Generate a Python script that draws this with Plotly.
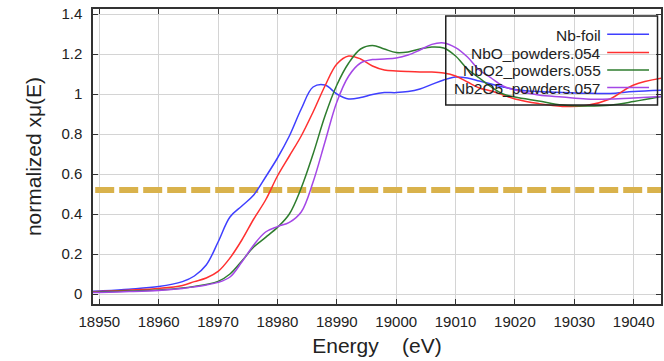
import plotly.graph_objects as go

# ---------------- data ----------------
energy = [18948, 18950, 18955, 18960, 18964, 18966, 18968, 18970, 18972, 18974,
          18976, 18978, 18980, 18982, 18984, 18986, 18988, 18990, 18992, 18994,
          18996, 18998, 19000, 19002, 19004, 19006, 19008, 19010, 19012, 19014,
          19016, 19018, 19020, 19024, 19028, 19032, 19036, 19040, 19046]

nb_foil = [0.012, 0.015, 0.024, 0.037, 0.062, 0.090, 0.145, 0.260, 0.385, 0.440,
           0.495, 0.585, 0.680, 0.790, 0.925, 1.035, 1.045, 1.000, 0.975, 0.982,
           0.998, 1.007, 1.007, 1.012, 1.025, 1.048, 1.070, 1.085, 1.080, 1.065,
           1.050, 1.035, 1.023, 1.012, 1.008, 1.004, 1.003, 1.012, 1.020]

nbo_054 = [0.010, 0.012, 0.019, 0.028, 0.043, 0.062, 0.080, 0.113, 0.180, 0.270,
           0.375, 0.470, 0.590, 0.690, 0.790, 0.910, 1.040, 1.150, 1.190, 1.175,
           1.140, 1.120, 1.115, 1.112, 1.110, 1.110, 1.105, 1.090, 1.060, 1.030,
           1.015, 0.995, 0.975, 0.952, 0.938, 0.942, 0.975, 1.045, 1.085]

nbo2_055 = [0.008, 0.010, 0.015, 0.020, 0.030, 0.038, 0.048, 0.063, 0.100, 0.165,
            0.235, 0.283, 0.333, 0.400, 0.530, 0.700, 0.890, 1.045, 1.155, 1.225,
            1.243, 1.225, 1.207, 1.210, 1.225, 1.235, 1.230, 1.190, 1.125, 1.080,
            1.035, 1.000, 0.985, 0.965, 0.945, 0.940, 0.944, 0.962, 0.995]

nb2o5_057 = [0.006, 0.008, 0.012, 0.018, 0.028, 0.036, 0.045, 0.058, 0.085, 0.160,
             0.245, 0.310, 0.337, 0.358, 0.410, 0.560, 0.760, 0.960, 1.090, 1.155,
             1.172, 1.175, 1.180, 1.195, 1.220, 1.248, 1.255, 1.232, 1.185, 1.120,
             1.080, 1.040, 1.020, 0.995, 0.985, 0.975, 0.975, 0.980, 0.990]

series_names = ["Nb-foil", "NbO_powders.054", "NbO2_powders.055", "Nb2O5_powders.057"]
series_values = [nb_foil, nbo_054, nbo2_055, nb2o5_057]
series_colors = ["#3f3fff", "#ff3030", "#2e7d2e", "#a447e6"]

threshold = 0.52
threshold_x = [18949.3, 19046]

x_ticks = [18950, 18960, 18970, 18980, 18990, 19000, 19010, 19020, 19030, 19040]
y_ticks = [0, 0.2, 0.4, 0.6, 0.8, 1, 1.2, 1.4]

# ---------------- figure ----------------
fig = go.Figure()

fig.add_trace(go.Scatter(
    x=threshold_x, y=[threshold, threshold], mode="lines",
    line=dict(color="#d9b24c", width=6, dash="19px,5px"),
    showlegend=False, hoverinfo="skip"))

for name, vals, col in zip(series_names, series_values, series_colors):
    fig.add_trace(go.Scatter(
        x=energy, y=vals, mode="lines", name=name,
        line=dict(color=col, width=1.5, shape="spline", smoothing=1.0),
        showlegend=False))

FONT = "Liberation Sans, Arial, sans-serif"

axis_common = dict(
    showgrid=True, gridcolor="#d4d4d4", gridwidth=1,
    showline=True, linecolor="#333333", linewidth=1.5, mirror="ticks",
    ticks="inside", ticklen=5, tickcolor="#333333", tickwidth=1,
    zeroline=False, tickfont=dict(family=FONT, size=15, color="#222222"),
)

fig.update_layout(
    width=664, height=361,
    margin=dict(l=93, r=1, t=9, b=57),
    paper_bgcolor="white", plot_bgcolor="white",
    font=dict(family=FONT, color="#222222"),
    xaxis=dict(range=[18948.93, 19044.6], tickvals=x_ticks, tickformat="d",
               ticklabelstandoff=3,
               title=dict(text="Energy\u00a0\u00a0\u00a0\u00a0(eV)",
                          font=dict(family=FONT, size=21), standoff=10),
               **axis_common),
    yaxis=dict(range=[-0.05, 1.425], tickvals=y_ticks,
               ticklabelstandoff=6,
               title=dict(text="normalized xμ(E)",
                          font=dict(family=FONT, size=21), standoff=14),
               **axis_common),
)

# ---------------- custom legend (text left, line sample right) ----------------
px_w, px_h = 570.0, 295.0
def px_x(p):
    return (p - 93) / px_w
def px_y(p):
    return (304 - p) / px_h

fig.add_shape(type="rect", xref="paper", yref="paper",
              x0=px_x(447), x1=px_x(659.5), y0=px_y(105), y1=px_y(16),
              line=dict(color="#222222", width=1.5), fillcolor="rgba(0,0,0,0)",
              layer="above")

row_y = [35, 53.3, 70.7, 88.3]
for name, col, ry in zip(series_names, series_colors, row_y):
    fig.add_annotation(xref="paper", yref="paper", x=px_x(605), y=px_y(ry),
                       text=name, showarrow=False, xanchor="right", yanchor="middle",
                       font=dict(family=FONT, size=15.5, color="#222222"))
    fig.add_shape(type="line", xref="paper", yref="paper",
                  x0=px_x(609), x1=px_x(651), y0=px_y(ry - 0.8), y1=px_y(ry - 0.8),
                  line=dict(color=col, width=1.5), layer="above")

fig.write_html("out.html", config={"displayModeBar": False},
               post_script="document.body.style.margin='0';document.body.style.overflow='hidden';")
